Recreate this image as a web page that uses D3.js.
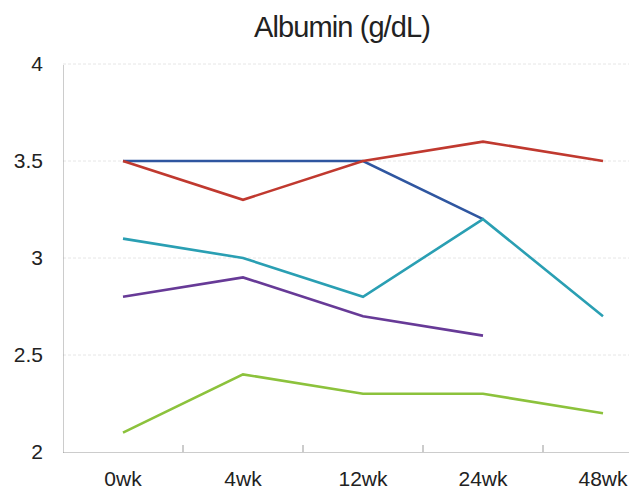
<!DOCTYPE html>
<html><head><meta charset="utf-8">
<script src="https://cdn.jsdelivr.net/npm/d3@7"></script>
<style>body{margin:0;background:#fff}svg{display:block}</style>
</head><body>
<svg id="c" width="629" height="495"></svg>
<script>
const categories = ["0wk","4wk","12wk","24wk","48wk"];
const yTicks = [2, 2.5, 3, 3.5, 4];
const seriesBlue   = [3.5, 3.5, 3.5, 3.2, null];
const seriesRed    = [3.5, 3.3, 3.5, 3.6, 3.5];
const seriesTeal   = [3.1, 3.0, 2.8, 3.2, 2.7];
const seriesPurple = [2.8, 2.9, 2.7, 2.6, null];
const seriesGreen  = [2.1, 2.4, 2.3, 2.3, 2.2];
const series = [
  {values: seriesBlue, color: "#2f56a0"},
  {values: seriesTeal, color: "#2a9fb3"},
  {values: seriesPurple, color: "#673a97"},
  {values: seriesGreen, color: "#8cc23c"},
  {values: seriesRed, color: "#c0392f"}
];
const FONT = "Liberation Sans, Arial, sans-serif";

const svg = d3.select("#c");
const x = d3.scaleBand().domain(categories).range([63, 663]);
const y = d3.scaleLinear().domain([2, 4]).range([452, 64]);

svg.append("text").attr("x", 342).attr("y", 37).attr("text-anchor", "middle")
  .attr("font-family", FONT).attr("font-size", 29).attr("letter-spacing", -0.9)
  .attr("fill", "#222").text("Albumin (g/dL)");

// gridlines
svg.append("g").selectAll("line").data(yTicks.filter(t => t > 2)).join("line")
  .attr("x1", 63).attr("x2", 629).attr("y1", d => y(d)).attr("y2", d => y(d))
  .attr("stroke", "#e6e6e6").attr("stroke-width", 1).attr("stroke-dasharray", "3,2");

// y axis
const yAxis = svg.append("g").attr("transform", "translate(63,0)")
  .call(d3.axisLeft(y).tickValues(yTicks).tickSize(0).tickPadding(20).tickFormat(d3.format("")));
yAxis.select(".domain").attr("stroke", "#999").attr("stroke-dasharray", "1,1");
yAxis.selectAll("text").attr("font-family", FONT)
  .attr("font-size", 21).attr("fill", "#222");

// x axis
const xAxis = svg.append("g").attr("transform", "translate(0,452)")
  .call(d3.axisBottom(x).tickSize(0).tickPadding(19));
xAxis.select(".domain").attr("stroke", "#999").attr("stroke-dasharray", "1,1");
xAxis.selectAll("text").attr("font-family", FONT)
  .attr("font-size", 21).attr("fill", "#222");
// tick marks at category boundaries (pointing up)
svg.append("g").selectAll("line").data(categories.slice(1)).join("line")
  .attr("x1", d => x(d)).attr("x2", d => x(d)).attr("y1", 452).attr("y2", 445)
  .attr("stroke", "#999");

const line = d3.line()
  .defined(d => d != null)
  .x((d, i) => x(categories[i]) + x.bandwidth() / 2)
  .y(d => y(d));

svg.append("g").selectAll("path").data(series).join("path")
  .attr("d", s => line(s.values))
  .attr("fill", "none").attr("stroke", s => s.color)
  .attr("stroke-width", 2.6).attr("stroke-linejoin", "miter");
</script>
</body></html>
